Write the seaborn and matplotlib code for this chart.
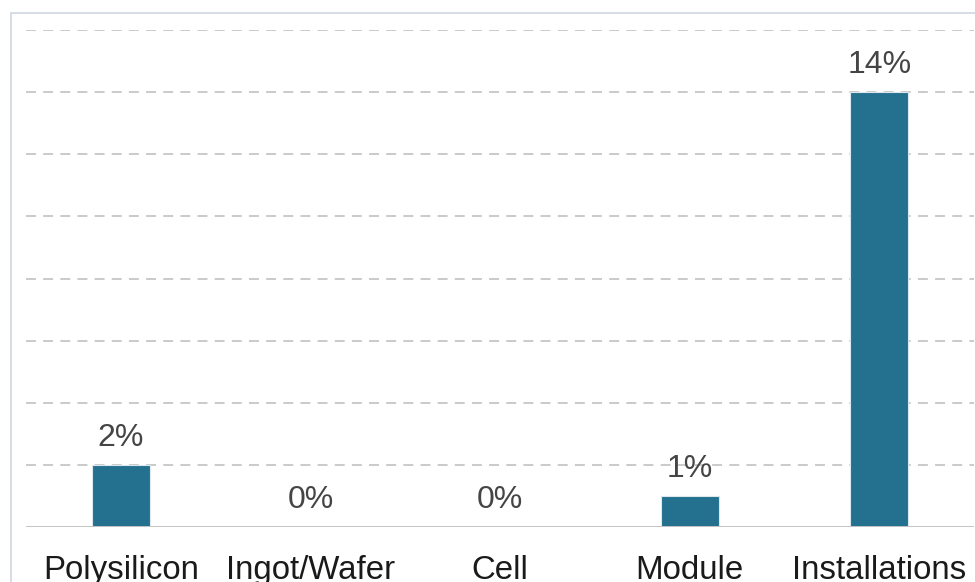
import matplotlib
matplotlib.use("Agg")
import matplotlib.pyplot as plt
from matplotlib.patches import Rectangle
import seaborn as sns
import pandas as pd

# Value-chain segments and their shares (%)
categories = ["Polysilicon", "Ingot/Wafer", "Cell", "Module", "Installations"]
shares = [2, 0, 0, 1, 14]
value_labels = ["2%", "0%", "0%", "1%", "14%"]
y_ticks = [2, 4, 6, 8, 10, 12, 14, 16]

df = pd.DataFrame({"segment": categories, "share": shares})

sns.set_theme(style="white")
plt.rcParams["font.family"] = ["Liberation Sans", "DejaVu Sans"]

W, H = 975, 582
fig = plt.figure(figsize=(W / 100, H / 100), dpi=100)
fig.patch.set_facecolor("white")

# thin frame around the chart area
fig.patches.append(Rectangle((10.5 / W, -0.1), 1.2, 1.1 - 12.5 / H,
                             transform=fig.transFigure, fill=False,
                             edgecolor="#d3d9e3", linewidth=1.3, zorder=0))

ax = fig.add_axes([26 / W, 1 - 527 / H, (974 - 26) / W, (527 - 30) / H])
ax.set_facecolor("none")

sns.barplot(data=df, x="segment", y="share", color="#23718f",
            width=0.306, saturation=1, edgecolor="#dce8ee", linewidth=0.8,
            ax=ax, zorder=3)

ax.set_xlim(-0.5, len(categories) - 0.5)
ax.set_ylim(0, 16)

# dashed horizontal gridlines
for yv in y_ticks:
    ax.axhline(yv, color="#c6c6c6", linewidth=1.3, linestyle=(0, (5.5, 4)), zorder=1)
ax.axhline(0, color="#c4c4c4", linewidth=1.4, zorder=4)

for s in ax.spines.values():
    s.set_visible(False)

ax.set_yticks([])
ax.set_xlabel("")
ax.set_ylabel("")
ax.tick_params(axis="x", length=0, pad=20, labelsize=23.8, labelcolor="#1a1a1a")

for i, (v, lab) in enumerate(zip(shares, value_labels)):
    ax.annotate(lab, (i, v), xytext=(0, 13.5), textcoords="offset points",
                ha="center", va="baseline", fontsize=23, color="#454545",
                zorder=5, annotation_clip=False)

fig.savefig("out.png", dpi=100, facecolor="white")
